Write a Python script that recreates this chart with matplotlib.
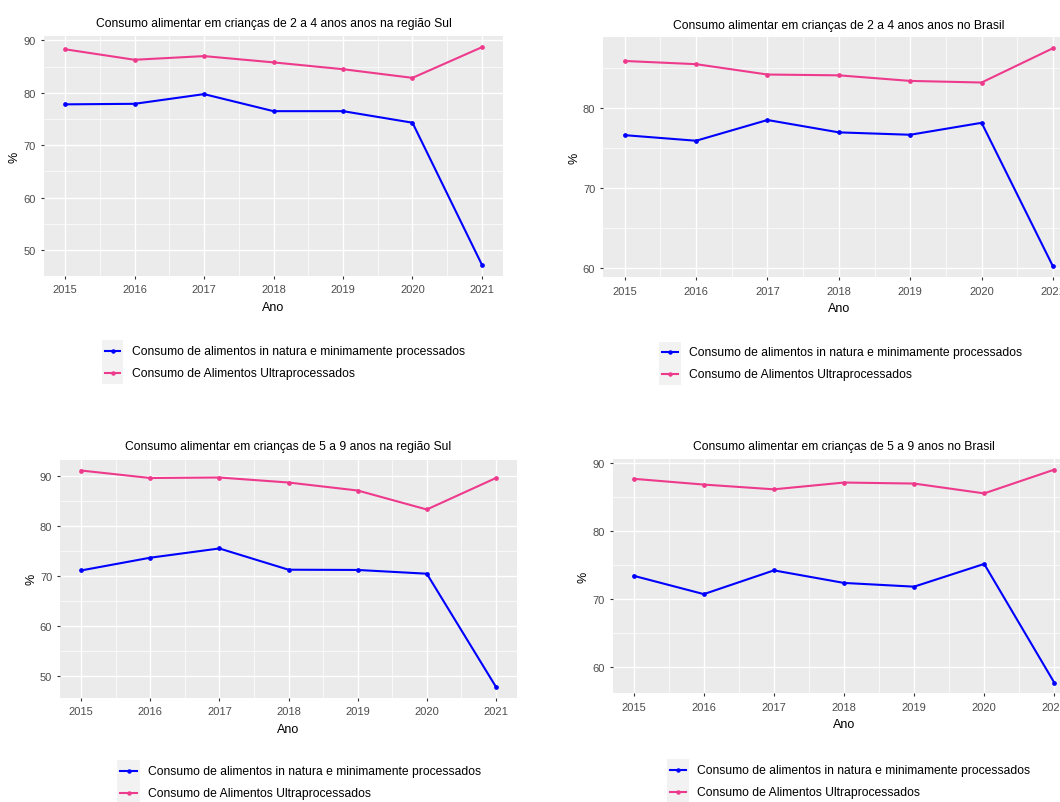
import matplotlib
matplotlib.use("Agg")
import matplotlib.pyplot as plt
from matplotlib.ticker import MultipleLocator, FixedLocator
from matplotlib.patches import Rectangle
from matplotlib.lines import Line2D

plt.rcParams["font.family"] = ["Liberation Sans", "DejaVu Sans"]

# ---- data -------------------------------------------------------------
anos = [2015, 2016, 2017, 2018, 2019, 2020, 2021]

series_names = [
    "Consumo de alimentos in natura e minimamente processados",
    "Consumo de Alimentos Ultraprocessados",
]

titulos = [
    "Consumo alimentar em crianças de 2 a 4 anos anos na região Sul",
    "Consumo alimentar em crianças de 2 a 4 anos anos no Brasil",
    "Consumo alimentar em crianças de 5 a 9 anos na região Sul",
    "Consumo alimentar em crianças de 5 a 9 anos no Brasil",
]

# 2 a 4 anos - região Sul
in_natura_2a4_sul = [77.8, 77.9, 79.75, 76.5, 76.5, 74.3, 47.2]
ultra_2a4_sul = [88.3, 86.3, 87.0, 85.8, 84.5, 82.85, 88.7]

# 2 a 4 anos - Brasil
in_natura_2a4_br = [76.6, 75.9, 78.5, 76.95, 76.65, 78.15, 60.15]
ultra_2a4_br = [85.9, 85.5, 84.2, 84.1, 83.4, 83.2, 87.5]

# 5 a 9 anos - região Sul
in_natura_5a9_sul = [71.1, 73.65, 75.5, 71.25, 71.2, 70.45, 47.8]
ultra_5a9_sul = [91.1, 89.6, 89.7, 88.7, 87.1, 83.3, 89.6]

# 5 a 9 anos - Brasil
in_natura_5a9_br = [73.4, 70.7, 74.2, 72.35, 71.8, 75.15, 57.65]
ultra_5a9_br = [87.7, 86.85, 86.15, 87.15, 87.0, 85.55, 89.05]

paineis = [
    (in_natura_2a4_sul, ultra_2a4_sul),
    (in_natura_2a4_br, ultra_2a4_br),
    (in_natura_5a9_sul, ultra_5a9_sul),
    (in_natura_5a9_br, ultra_5a9_br),
]

cores = ["#0000FF", "#EE3A8C"]

# ---- layout (pixel units) --------------------------------------------
W, H = 1060, 803
fig = plt.figure(figsize=(W / 100, H / 100), dpi=100)
fig.patch.set_facecolor("white")


def fx(x):
    return x / W


def fy(y):
    return 1 - y / H


# left, top, right, bottom of each panel
caixas = [
    (44.2, 37.3, 502.8, 276.7),
    (603.3, 38.3, 1074.4, 278.3),
    (60.3, 460.7, 516.7, 698.7),
    (612.7, 460.0, 1075.3, 694.3),
]
# title centre y
titulo_y = [23.5, 25.5, 447.5, 447.5]
# legend: box left, box right, line y's, text x
legendas = [
    (101.7, 123.3, (352.0, 373.7), 131.7),
    (659.3, 680.7, (353.3, 375.0), 689.3),
    (117.3, 139.7, (772.0, 794.0), 148.3),
    (666.7, 689.0, (771.3, 793.0), 696.7),
]

for i, ((s1, s2), (l, t, r, b)) in enumerate(zip(paineis, caixas)):
    ax = fig.add_axes([fx(l), fy(b), (r - l) / W, (b - t) / H])
    ax.set_facecolor("#EBEBEB")
    for sp in ax.spines.values():
        sp.set_visible(False)
    ax.set_axisbelow(True)

    for vals, cor in zip((s1, s2), cores):
        ax.plot(anos, vals, color=cor, lw=1.5, marker="o", ms=2.4,
                solid_joinstyle="round", zorder=3)

    ax.margins(x=0.05, y=0.05)
    ax.xaxis.set_major_locator(FixedLocator(anos))
    ax.xaxis.set_minor_locator(FixedLocator([a + 0.5 for a in anos[:-1]]))
    ax.yaxis.set_major_locator(MultipleLocator(10))
    ax.yaxis.set_minor_locator(MultipleLocator(5))

    ax.grid(which="major", color="white", lw=1.0)
    ax.grid(which="minor", color="white", lw=0.5)

    ax.tick_params(which="major", length=2.3, width=0.8, color="#333333",
                   labelsize=8, labelcolor="#4D4D4D")
    ax.tick_params(axis="x", which="major", pad=4)
    ax.tick_params(axis="y", which="major", pad=3.5)
    ax.tick_params(which="minor", length=0)

    ax.set_xlabel("Ano", fontsize=9, labelpad=4.5, color="black")
    ax.set_ylabel("%", fontsize=9, labelpad=2, color="black")

    fig.text(fx((l + r) / 2), fy(titulo_y[i]), titulos[i], ha="center",
             va="center", fontsize=8.7, color="black")

    # legend
    bl, br, ys, tx = legendas[i]
    fig.patches.append(Rectangle((fx(bl), fy(ys[1] + 10.8)),
                                 (br - bl) / W, (ys[1] - ys[0] + 21.6) / H,
                                 transform=fig.transFigure,
                                 facecolor="#F2F2F2", edgecolor="none"))
    for yy, cor, nome in zip(ys, cores, series_names):
        fig.lines.append(Line2D([fx(bl + 3), fx(br - 3)], [fy(yy), fy(yy)],
                                transform=fig.transFigure, color=cor, lw=1.5))
        fig.lines.append(Line2D([fx((bl + br) / 2)], [fy(yy)],
                                transform=fig.transFigure, color=cor,
                                marker="o", ms=2.2, lw=0))
        fig.text(fx(tx), fy(yy), nome, ha="left", va="center",
                 fontsize=8.7, color="black")

fig.savefig("out.png", dpi=100)
